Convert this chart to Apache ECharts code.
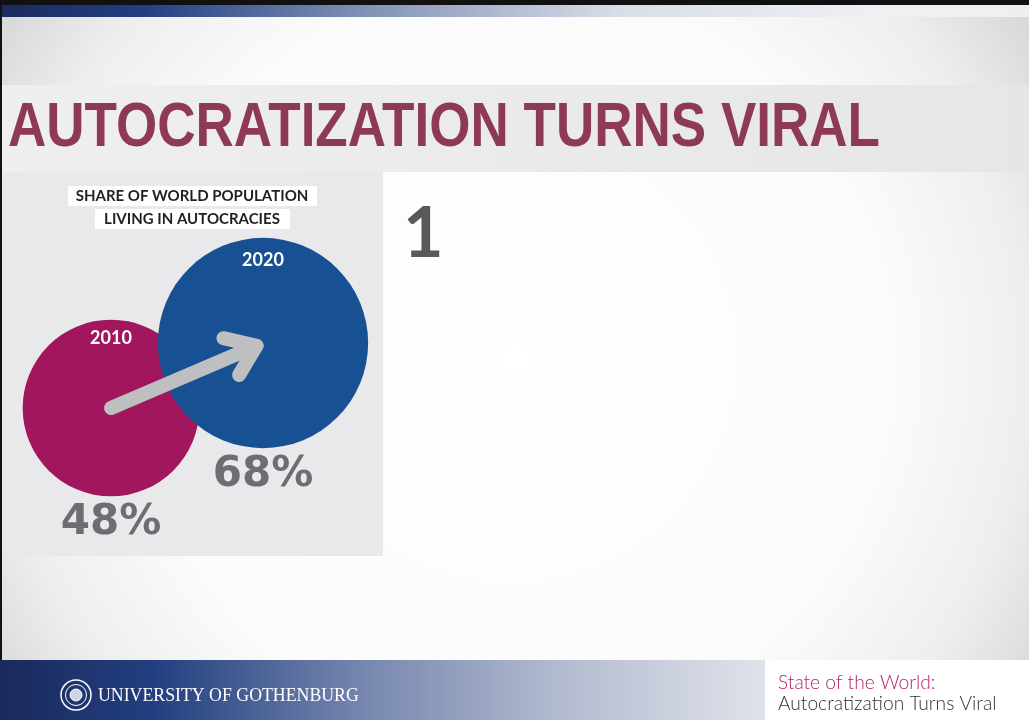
<!DOCTYPE html>
<html>
<head>
<meta charset="utf-8">
<script src="https://cdn.jsdelivr.net/npm/echarts@6/dist/echarts.min.js"></script>
<style>
  html, body { margin: 0; padding: 0; background: #fff; }
  #chart { width: 1029px; height: 720px; }
</style>
</head>
<body>
<div id="chart"></div>
<script>
// data
const years = ['2010', '2020']
const shares = [48, 68]
const circleColors = ['#a2165d', '#175194']
const panelTitle = ['SHARE OF WORLD POPULATION', 'LIVING IN AUTOCRACIES']
const slideTitle = 'AUTOCRATIZATION TURNS VIRAL'
const footerTitle = ['State of the World:', 'Autocratization Turns Viral']

// circle area proportional to share
const sizeOf = v => 25.5 * Math.sqrt(v)

// the slide title uses a condensed face, squeeze a normal one to the same width
const titleFont = 'bold 63px "Liberation Sans"'
const ctx = document.createElement('canvas').getContext('2d')
ctx.font = titleFont
const titleScale = 872 / ctx.measureText(slideTitle).width

const chart = echarts.init(document.getElementById('chart'))

function renderArrow(params, api) {
  const p0 = api.coord([0, shares[0]])
  const p1 = api.coord([1, shares[1]])
  const dx = p1[0] - p0[0]
  const dy = p1[1] - p0[1]
  const len = Math.sqrt(dx * dx + dy * dy)
  const ux = dx / len
  const uy = dy / len
  const tip = [p1[0] - 7 * ux, p1[1] - 7 * uy]
  const armLen = 34
  const ang = 36 * Math.PI / 180
  const arm = (a) => {
    const bx = -ux, by = -uy
    return [tip[0] + armLen * (bx * Math.cos(a) - by * Math.sin(a)),
            tip[1] + armLen * (bx * Math.sin(a) + by * Math.cos(a))]
  }
  const style = { stroke: '#bdbfc1', lineWidth: 14, lineCap: 'round', lineJoin: 'round', fill: null }
  return {
    type: 'group',
    children: [
      { type: 'polyline', shape: { points: [p0, tip] }, style: style },
      { type: 'polyline', shape: { points: [arm(ang), tip, arm(-ang)] }, style: style }
    ]
  }
}

const option = {
  animation: false,
  graphic: [
    // slide background
    { type: 'rect', shape: { x: 0, y: 0, width: 1029, height: 720 }, z: -10,
      style: { fill: { type: 'radial', x: 0.5, y: 0.5, r: 0.95, colorStops: [
        { offset: 0, color: '#ffffff' }, { offset: 0.55, color: '#fbfbfb' },
        { offset: 0.75, color: '#eeeeee' }, { offset: 0.9, color: '#d8d8d8' },
        { offset: 1, color: '#c8c8c8' }] } } },
    // title band
    { type: 'rect', shape: { x: 0, y: 85, width: 1029, height: 87 }, z: -9,
      style: { fill: { type: 'linear', x: 0, y: 0, x2: 1, y2: 0, colorStops: [
        { offset: 0, color: '#efefef' }, { offset: 1, color: '#e6e6e6' }] } } },
    // top rule and bar
    { type: 'rect', shape: { x: 0, y: 0, width: 1029, height: 5 }, z: -8, style: { fill: '#111111' } },
    { type: 'rect', shape: { x: 0, y: 5, width: 1029, height: 12 }, z: -8,
      style: { fill: { type: 'linear', x: 0, y: 0, x2: 1, y2: 0, colorStops: [
        { offset: 0, color: '#1c2a5e' }, { offset: 0.14, color: '#213f83' },
        { offset: 0.35, color: '#7f90b5' }, { offset: 0.6, color: '#d8dde7' },
        { offset: 0.85, color: '#eef0f3' }, { offset: 1, color: '#efefef' }] } } },
    { type: 'rect', shape: { x: 0, y: 0, width: 2, height: 660 }, z: -8, style: { fill: '#111111' } },
    // title
    { type: 'text', x: 8, y: 129, z: 5, scaleX: titleScale,
      style: { text: slideTitle, fill: '#8e3a55', font: titleFont, verticalAlign: 'middle' } },
    // left panel
    { type: 'rect', shape: { x: 2, y: 172, width: 381, height: 384 }, z: -7, style: { fill: '#e9e9eb' } },
    { type: 'rect', shape: { x: 68, y: 186, width: 249, height: 20 }, z: -6, style: { fill: '#ffffff' } },
    { type: 'rect', shape: { x: 95, y: 209, width: 195, height: 20 }, z: -6, style: { fill: '#ffffff' } },
    { type: 'text', x: 192, y: 196, z: 5,
      style: { text: panelTitle[0], fill: '#231f20', font: 'bold 15px Lato', align: 'center', verticalAlign: 'middle' } },
    { type: 'text', x: 192, y: 219, z: 5,
      style: { text: panelTitle[1], fill: '#231f20', font: 'bold 15px Lato', align: 'center', verticalAlign: 'middle' } },
    // number
    { type: 'text', x: 403, y: 234, z: 5,
      style: { text: '1', fill: '#595959', font: 'bold 70px Lato', verticalAlign: 'middle' } },
    // footer
    { type: 'rect', shape: { x: 0, y: 660, width: 1029, height: 60 }, z: -8,
      style: { fill: { type: 'linear', x: 0, y: 0, x2: 1, y2: 0, colorStops: [
        { offset: 0, color: '#1b295c' }, { offset: 0.15, color: '#223f80' },
        { offset: 0.35, color: '#7586ae' }, { offset: 0.55, color: '#b4bcd0' },
        { offset: 0.74, color: '#dfe2ea' }, { offset: 1, color: '#e5e5e5' }] } } },
    { type: 'rect', shape: { x: 765, y: 660, width: 264, height: 60 }, z: -7, style: { fill: '#ffffff' } },
    { type: 'circle', shape: { cx: 76, cy: 695, r: 15 }, z: 5, style: { fill: 'none', stroke: '#ffffff', lineWidth: 1.5 } },
    { type: 'circle', shape: { cx: 76, cy: 695, r: 10.5 }, z: 5, style: { fill: 'none', stroke: '#ffffff', lineWidth: 1 } },
    { type: 'circle', shape: { cx: 76, cy: 695, r: 6 }, z: 5, style: { fill: '#cfd5e6', stroke: '#ffffff', lineWidth: 1 } },
    { type: 'text', x: 98, y: 696, z: 5,
      style: { text: 'UNIVERSITY OF GOTHENBURG', fill: '#ffffff', font: '17.8px "Liberation Serif"', verticalAlign: 'middle' } },
    { type: 'text', x: 778, y: 683, z: 5,
      style: { text: footerTitle[0], fill: '#b5206e', font: '300 19.2px Lato', verticalAlign: 'middle' } },
    { type: 'text', x: 778, y: 704, z: 5,
      style: { text: footerTitle[1], fill: '#333333', font: '300 19.2px Lato', verticalAlign: 'middle' } }
  ],
  grid: { left: 35, width: 304, top: 239, bottom: 156 },
  xAxis: { type: 'category', data: years, show: false },
  yAxis: { type: 'value', min: 0, max: 100, show: false },
  series: [
    {
      name: 'share',
      type: 'scatter',
      z: 2,
      symbolSize: val => sizeOf(val[1]),
      itemStyle: { opacity: 1 },
      data: shares.map((v, i) => ({
        value: [years[i], v],
        itemStyle: { color: circleColors[i], opacity: 1 },
        label: { offset: [0, -0.785 * sizeOf(v) / 2] }
      })),
      label: {
        show: true,
        position: 'inside',
        formatter: p => p.value[0],
        color: '#ffffff',
        fontFamily: 'Lato',
        fontWeight: 'bold',
        fontSize: 18
      }
    },
    {
      name: 'arrow',
      type: 'custom',
      z: 3,
      renderItem: renderArrow,
      data: [[0, shares[0], 1, shares[1]]],
      silent: true
    },
    {
      name: 'percent',
      type: 'scatter',
      z: 4,
      symbolSize: 0,
      itemStyle: { opacity: 1 },
      data: shares.map((v, i) => ({
        value: [years[i], v],
        label: { offset: [0, sizeOf(v) / 2 + 27] }
      })),
      label: {
        show: true,
        position: 'inside',
        formatter: p => p.value[1] + '%',
        color: '#6d6e71',
        fontFamily: 'DejaVu Sans',
        fontWeight: 'bold',
        fontSize: 42
      }
    }
  ]
}

chart.setOption(option)
</script>
</body>
</html>
